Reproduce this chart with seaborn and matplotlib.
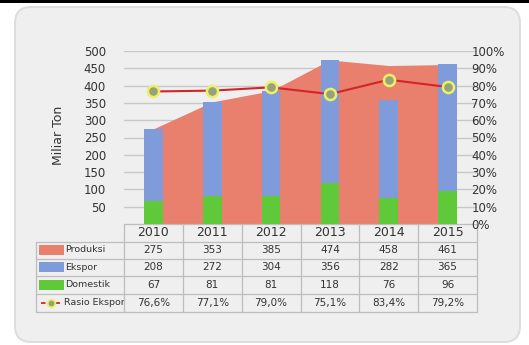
import matplotlib
matplotlib.use("Agg")
import matplotlib.pyplot as plt
import matplotlib.transforms as mtransforms
from matplotlib.patches import FancyBboxPatch, Rectangle
from matplotlib.lines import Line2D
import seaborn as sns
import pandas as pd

# Production, export and domestic volumes (billion tons) and export ratio (%)
years = ["2010", "2011", "2012", "2013", "2014", "2015"]
produksi = [275, 353, 385, 474, 458, 461]
ekspor = [208, 272, 304, 356, 282, 365]
domestik = [67, 81, 81, 118, 76, 96]
rasio = [76.6, 77.1, 79.0, 75.1, 83.4, 79.2]
left_ticks = [50, 100, 150, 200, 250, 300, 350, 400, 450, 500]
right_ticks = [0, 10, 20, 30, 40, 50, 60, 70, 80, 90, 100]

C_PROD = "#E8806D"
C_EKS = "#7F9BDA"
C_DOM = "#5FC93A"
C_LINE = "#D42428"
C_MFILL = "#94A27E"
C_MEDGE = "#EEF064"
C_TXT = "#333333"
C_GRID = "#C8C8C8"

sns.set_theme(style="white")
plt.rcParams["font.family"] = ["DejaVu Sans"]

W, H = 529, 345
fig = plt.figure(figsize=(W / 100, H / 100), dpi=100)
fig.patch.set_facecolor("white")

# Pixel-space background layer: rounded grey panel and top rule
bg = fig.add_axes([0, 0, 1, 1], zorder=-5)
bg.set_xlim(0, W)
bg.set_ylim(H, 0)
bg.axis("off")
bg.add_patch(Rectangle((0, 0), W, 2.6, fc="black", ec="none"))
bg.add_patch(FancyBboxPatch((15, 7), 505, 335,
                            boxstyle="round,pad=0,rounding_size=16",
                            fc="#EFEFEF", ec="#DDDDDD", lw=1.4))

df = pd.DataFrame({"year": years, "produksi": produksi, "ekspor": ekspor,
                   "domestik": domestik, "rasio": rasio})
df["total"] = df["ekspor"] + df["domestik"]

ax = fig.add_axes([124 / W, (H - 224) / H, 353 / W, 173 / H])
ax.set_facecolor("none")

# Production as an area spanning the category centres
xs = list(range(len(years)))
ax.fill_between(xs, df["produksi"], 0, color=C_PROD, lw=0, zorder=1)

# Stacked bars: export on top of domestic
sns.barplot(data=df, x="year", y="total", color=C_EKS, width=0.32,
            saturation=1, ax=ax, zorder=2)
sns.barplot(data=df, x="year", y="domestik", color=C_DOM, width=0.32,
            saturation=1, ax=ax, zorder=3)
for p in ax.patches:
    p.set_linewidth(0)

ax.set_xlim(-0.5, len(years) - 0.5)
ax.set_ylim(0, 500)
ax.set_yticks(left_ticks)
ax.set_yticklabels([str(t) for t in left_ticks], fontsize=8.5, color=C_TXT)
ax.set_xticks([])
ax.set_xlabel("")
ax.set_ylabel("")
ax.tick_params(axis="y", length=0, pad=13)
for s in ax.spines.values():
    s.set_visible(False)
ax.set_axisbelow(True)
ax.yaxis.grid(True, color=C_GRID, lw=1, zorder=0)
ax.xaxis.grid(False)

fig.text(58 / W, 1 - 135 / H, "Miliar Ton", rotation=90, ha="center",
         va="center", fontsize=9, color=C_TXT)

# Export ratio on the secondary axis
ax2 = ax.twinx()
ax2.set_facecolor("none")
sns.lineplot(x=xs, y=df["rasio"], ax=ax2, color=C_LINE, lw=1.5,
             marker="o", markersize=8, markerfacecolor=C_MFILL,
             markeredgecolor=C_MEDGE, markeredgewidth=1.8, zorder=5)
ax2.set_ylim(0, 100)
ax2.set_yticks(right_ticks)
ax2.set_yticklabels([f"{t}%" for t in right_ticks], fontsize=8.5, color=C_TXT)
ax2.tick_params(axis="y", length=0, pad=-4)
ax2.set_ylabel("")
ax2.set_xlim(-0.5, len(years) - 0.5)
for s in ax2.spines.values():
    s.set_visible(False)
ax2.grid(False)

# Data table below the plot (x in data units, y in pixels)
tr = mtransforms.blended_transform_factory(ax.transData, bg.transData)
px_per_cat = 353 / len(years)
x_left = -0.5 - (124 - 36) / px_per_cat
x_right = len(years) - 0.5
rows_y = [224, 241.5, 258.5, 275.5, 293.5, 312]
TBL = "#BDBDBD"

def hline(x0, x1, y):
    ax.add_line(Line2D([x0, x1], [y, y], transform=tr, color=TBL, lw=0.9,
                       clip_on=False))

def vline(x, y0, y1):
    ax.add_line(Line2D([x, x], [y0, y1], transform=tr, color=TBL, lw=0.9,
                       clip_on=False))

hline(-0.5, x_right, rows_y[0])
for y in rows_y[1:]:
    hline(x_left, x_right, y)
vline(x_left, rows_y[1], rows_y[-1])
for i in range(len(years) + 1):
    vline(i - 0.5, rows_y[0], rows_y[-1])

def mid(r):
    return (rows_y[r] + rows_y[r + 1]) / 2

for i, yr in enumerate(years):
    ax.text(i, mid(0), yr, transform=tr, ha="center", va="center",
            fontsize=9, color=C_TXT)
    ax.text(i, mid(1), str(produksi[i]), transform=tr, ha="center",
            va="center", fontsize=7.5, color=C_TXT)
    ax.text(i, mid(2), str(ekspor[i]), transform=tr, ha="center",
            va="center", fontsize=7.5, color=C_TXT)
    ax.text(i, mid(3), str(domestik[i]), transform=tr, ha="center",
            va="center", fontsize=7.5, color=C_TXT)
    ax.text(i, mid(4), f"{rasio[i]:.1f}%".replace(".", ","), transform=tr,
            ha="center", va="center", fontsize=7.5, color=C_TXT)

# Legend keys in the label column
names = ["Produksi", "Ekspor", "Domestik"]
colors = [C_PROD, C_EKS, C_DOM]
for r, (nm, c) in enumerate(zip(names, colors), start=1):
    y = mid(r)
    bg.add_patch(Rectangle((39, y - 5), 25, 10, fc=c, ec="none"))
    bg.text(65, y, nm, ha="left", va="center", fontsize=6.8, color=C_TXT)
y = mid(4)
bg.add_line(Line2D([41, 60], [y, y], color=C_LINE, lw=1.3, ls=(0, (2.5, 1.5))))
bg.add_line(Line2D([50.5], [y], marker="o", markersize=5.5,
                   markerfacecolor=C_MFILL, markeredgecolor=C_MEDGE,
                   markeredgewidth=1.3))
bg.text(64, y, "Rasio Ekspor", ha="left", va="center", fontsize=6.8,
        color=C_TXT)

fig.savefig("out.png", dpi=100)
